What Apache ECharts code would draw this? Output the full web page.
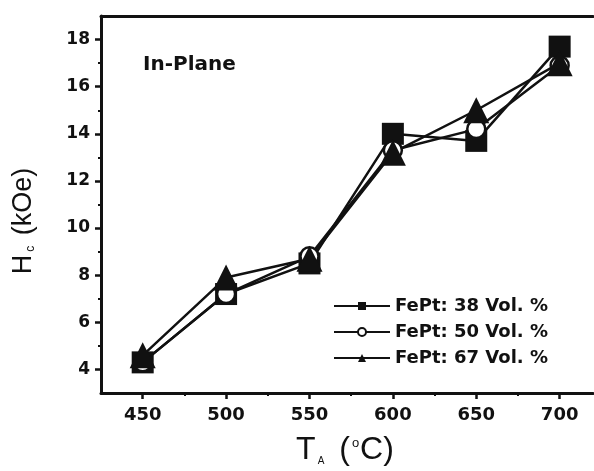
<!DOCTYPE html>
<html lang="en">
<head>
    <meta charset="UTF-8">
    <script src="https://cdn.jsdelivr.net/npm/echarts@6/dist/echarts.min.js"></script>
    <title>Hc vs TA</title>
</head>
<body style="margin:0;background:#fff;">
<div id="chart" style="width:594px;height:471px;"></div>
<script>
    // annealing temperature (°C)
    var temps = [450, 500, 550, 600, 650, 700];
    // coercivity Hc (kOe) for each FePt content
    var fept38 = [4.3, 7.2, 8.5, 14.0, 13.7, 17.7];
    var fept50 = [4.3, 7.2, 8.8, 13.3, 14.2, 16.9];
    var fept67 = [4.6, 7.9, 8.7, 13.2, 15.0, 17.0];
    var seriesNames = ['FePt: 38 Vol. %', 'FePt: 50 Vol. %', 'FePt: 67 Vol. %'];

    var xMajor = [450, 500, 550, 600, 650, 700];
    var xMinor = [475, 525, 575, 625, 675];
    var yMajor = [4, 6, 8, 10, 12, 14, 16, 18];
    var yMinor = [5, 7, 9, 11, 13, 15, 17];

    var ink = '#111';
    var font = 'Liberation Sans, Arial, sans-serif';
    var wide = 'DejaVu Sans, sans-serif';

    function pairs(ys) {
        var res = [];
        for (var i = 0; i < temps.length; i++) res.push([temps[i], ys[i]]);
        return res;
    }

    var chart = echarts.init(document.getElementById('chart'));

    var baseX = {type: 'value', min: 425, max: 720, gridIndex: 0, splitLine: {show: false}};
    var baseY = {type: 'value', min: 3, max: 19, gridIndex: 0, splitLine: {show: false}};

    var option = {
        backgroundColor: '#fff',
        animation: false,
        grid: {left: 101, top: 16, width: 492, height: 377, containLabel: false},
        xAxis: [
            Object.assign({}, baseX, {
                position: 'bottom',
                axisLine: {show: true, lineStyle: {color: ink, width: 3}},
                axisTick: {show: true, inside: false, length: 6, customValues: xMajor, lineStyle: {color: ink, width: 2.5}},
                axisLabel: {show: true, customValues: xMajor, margin: 13, color: ink, fontSize: 18, fontWeight: 'bold', fontFamily: wide}
            }),
            Object.assign({}, baseX, {
                position: 'bottom',
                axisLine: {show: false},
                axisTick: {show: true, inside: false, length: 3, customValues: xMinor, lineStyle: {color: ink, width: 2}},
                axisLabel: {show: false}
            }),
            Object.assign({}, baseX, {
                position: 'top',
                axisLine: {show: true, lineStyle: {color: ink, width: 3}},
                axisTick: {show: false},
                axisLabel: {show: false}
            })
        ],
        yAxis: [
            Object.assign({}, baseY, {
                position: 'left',
                axisLine: {show: true, lineStyle: {color: ink, width: 3}},
                axisTick: {show: true, inside: false, length: 6, customValues: yMajor, lineStyle: {color: ink, width: 2.5}},
                axisLabel: {show: true, customValues: yMajor, margin: 11, color: ink, fontSize: 17, fontWeight: 'bold', fontFamily: wide}
            }),
            Object.assign({}, baseY, {
                position: 'left',
                axisLine: {show: false},
                axisTick: {show: true, inside: false, length: 3, customValues: yMinor, lineStyle: {color: ink, width: 2}},
                axisLabel: {show: false}
            })
        ],
        legend: {
            orient: 'vertical',
            left: 328,
            top: 292,
            itemWidth: 56,
            itemHeight: 10,
            itemGap: 8,
            data: seriesNames,
            textStyle: {color: ink, fontSize: 18, fontWeight: 'bold', fontFamily: wide, lineHeight: 18}
        },
        graphic: [
            {
                type: 'text', left: 143, top: 55,
                style: {text: 'In-Plane', fill: ink, font: 'bold 20px ' + wide}
            },
            {
                type: 'text', x: 24, y: 221, rotation: Math.PI / 2,
                style: {
                    text: '{m|H}{s|c}{m| (kOe)}',
                    align: 'center', verticalAlign: 'middle',
                    rich: {
                        m: {fill: ink, fontSize: 27, fontFamily: font},
                        s: {fill: ink, fontSize: 12, fontFamily: font, padding: [14, 3, 0, 3]}
                    }
                }
            },
            {
                type: 'text', x: 345, y: 450,
                style: {
                    text: '{m|T}{s|A}{m| (}{p|o}{m|C)}',
                    align: 'center', verticalAlign: 'middle',
                    rich: {
                        m: {fill: ink, fontSize: 32, fontFamily: font},
                        s: {fill: ink, fontSize: 10, fontFamily: font, padding: [22, 6, 0, 2]},
                        p: {fill: ink, fontSize: 13, fontFamily: font, padding: [0, 1, 14, 2]}
                    }
                }
            }
        ],
        series: [
            {
                name: seriesNames[0], type: 'line', data: pairs(fept38),
                symbol: 'rect', symbolSize: 22,
                lineStyle: {color: ink, width: 2.5},
                itemStyle: {color: ink, borderColor: ink, borderWidth: 0}
            },
            {
                name: seriesNames[1], type: 'line', data: pairs(fept50),
                symbol: 'circle', symbolSize: 18,
                lineStyle: {color: ink, width: 2.5},
                itemStyle: {color: '#fff', borderColor: ink, borderWidth: 2.5}
            },
            {
                name: seriesNames[2], type: 'line', data: pairs(fept67),
                symbol: 'triangle', symbolSize: 26,
                lineStyle: {color: ink, width: 2.5},
                itemStyle: {color: ink, borderColor: ink, borderWidth: 0}
            }
        ]
    };
    chart.setOption(option);
</script>
</body>
</html>
